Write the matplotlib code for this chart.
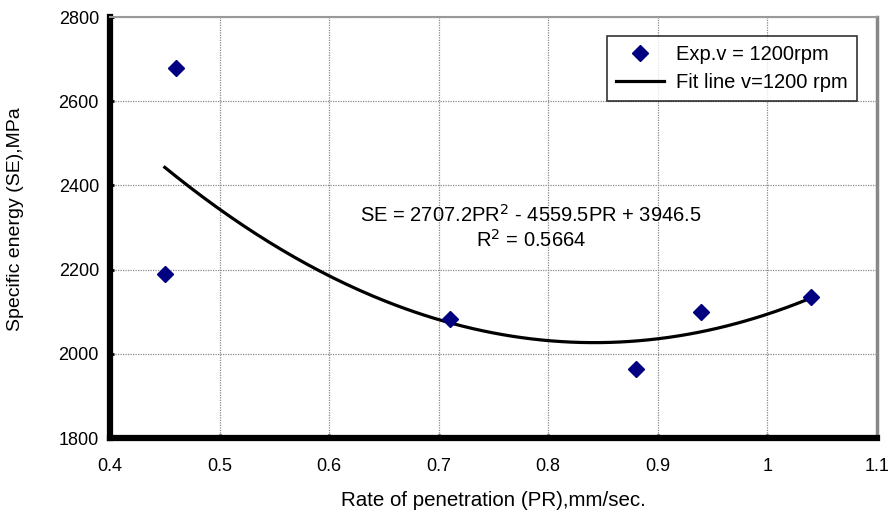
import numpy as np
import matplotlib.pyplot as plt

plt.rcParams['font.family'] = ['Liberation Sans', 'DejaVu Sans']

# experimental points, v = 1200 rpm
pr = [0.45, 0.46, 0.71, 0.88, 0.94, 1.04]
se = [2190, 2680, 2083, 1963, 2100, 2135]

# quadratic trend line coefficients (a, b, c)
fit_coef = [2707.2, -4559.5, 3946.5]
r2 = 0.5664

x_ticks = [0.4, 0.5, 0.6, 0.7, 0.8, 0.9, 1.0, 1.1]
x_tick_labels = ["0.4", "0.5", "0.6", "0.7", "0.8", "0.9", "1", "1.1"]
y_ticks = [1800, 2000, 2200, 2400, 2600, 2800]

fig = plt.figure(figsize=(8.91, 5.16), dpi=100)
ax = fig.add_axes([0.1235, 0.151, 0.8605, 0.816])

xf = np.linspace(min(pr), max(pr), 200)
ax.plot(xf, np.polyval(fit_coef, xf), color='black', lw=2.3, label='Fit line v=1200 rpm', zorder=3)
ax.plot(pr, se, linestyle='none', marker='D', ms=8.5, color='#000080', label='Exp.v = 1200rpm', zorder=4)

ax.set_xlim(0.4, 1.1)
ax.set_ylim(1800, 2800)
ax.set_xticks(x_ticks)
ax.set_xticklabels(x_tick_labels)
ax.set_yticks(y_ticks)
ax.tick_params(direction='in', length=3, width=2, labelsize=13, pad=14)
ax.tick_params(axis='y', pad=8)
ax.grid(True, color='#888888', linestyle=(0, (1, 1)), lw=0.9)

for side in ['left', 'bottom']:
    ax.spines[side].set_linewidth(4.5)
    ax.spines[side].set_color('black')
ax.spines['right'].set_color('#888888')
ax.spines['right'].set_linewidth(2.5)
ax.spines['top'].set_color('#999999')
ax.spines['top'].set_linewidth(1.5)

ax.set_xlabel('Rate of penetration (PR),mm/sec.', fontsize=14.8, labelpad=12)
ax.set_ylabel('Specific energy (SE),MPa', fontsize=14)
ax.yaxis.set_label_coords(-0.112, 0.52)

a, b, c = fit_coef
ax.text(0.549, 0.501, 'SE = %.1fPR$^2$ - %.1fPR + %.1f\nR$^2$ = %.4f' % (a, -b, c, r2),
        transform=ax.transAxes, ha='center', va='center', fontsize=14.5, linespacing=1.15)

handles, labels = ax.get_legend_handles_labels()
leg = ax.legend(handles[::-1], labels[::-1], loc='upper right', bbox_to_anchor=(0.974, 0.955),
                fontsize=14.5, frameon=True, fancybox=False, edgecolor='black',
                handlelength=2.4, borderpad=0.45, labelspacing=0.45, handletextpad=0.6,
                borderaxespad=0)
leg.get_frame().set_linewidth(1.2)

fig.savefig('out.png', dpi=100)
